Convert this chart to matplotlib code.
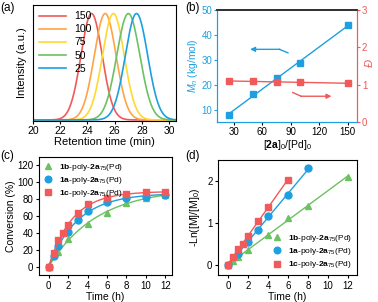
import matplotlib
matplotlib.use('Agg')
import matplotlib.pyplot as plt
import numpy as np

plt.rcParams['font.family'] = ['Liberation Sans', 'DejaVu Sans']
plt.rcParams['mathtext.fontset'] = 'custom'
plt.rcParams['mathtext.rm'] = 'Liberation Sans'
plt.rcParams['mathtext.it'] = 'Liberation Sans:italic'
plt.rcParams['mathtext.bf'] = 'Liberation Sans:bold'
plt.rcParams['font.size'] = 7
plt.rcParams['axes.labelsize'] = 7.5

RED = '#f05a5a'
ORANGE = '#ffa347'
YELLOW = '#ffd92f'
GREEN = '#6cc162'
BLUE = '#1ea0e0'

# (a) GPC traces: peak retention time and width for each [2a]0/[Pd]0
gpc_labels = ['150', '100', '75', '50', '25']
gpc_colors = [RED, ORANGE, YELLOW, GREEN, BLUE]
gpc_peak = [24.3, 25.3, 25.9, 27.0, 27.6]
gpc_width = [0.78, 0.80, 0.80, 0.85, 0.82]

# (b) Mn and dispersity vs feed ratio
ratio = [25, 50, 75, 100, 150]
mn = [8.0, 16.2, 22.6, 28.8, 43.8]
disp = [1.09, 1.11, 1.06, 1.06, 1.04]

# (c) conversion vs time
t_b = [0, 1, 2, 4, 6, 8, 10, 12]
conv_b = [0, 17, 33, 51, 64, 75, 81, 85]
t_a = [0, 0.5, 1, 2, 3, 4, 6, 8, 10, 12]
conv_a = [0, 12, 24, 41, 55, 66, 77, 81, 83, 85]
t_c = [0, 0.5, 1, 1.5, 2, 3, 4, 6, 8, 10, 12]
conv_c = [0, 16, 31, 40, 49, 64, 74, 81, 86, 88, 88]

# (d) -ln([M]/[M]0) vs time
lt_b = [0, 0.5, 1, 2, 4, 6, 8, 12]
ln_b = [0, 0.08, 0.18, 0.34, 0.70, 1.12, 1.41, 2.10]
lt_a = [0, 1, 2, 3, 4, 6, 8]
ln_a = [0, 0.26, 0.54, 0.82, 1.15, 1.66, 2.30]
lt_c = [0, 0.5, 1, 1.5, 2, 3, 4, 6]
ln_c = [0, 0.17, 0.38, 0.50, 0.68, 1.05, 1.37, 2.02]

lab_b = r'$\mathbf{1b}$-poly-$\mathbf{2a}_{\mathit{75}}$(Pd)'
lab_a = r'$\mathbf{1a}$-poly-$\mathbf{2a}_{\mathit{75}}$(Pd)'
lab_c = r'$\mathbf{1c}$-poly-$\mathbf{2a}_{\mathit{75}}$(Pd)'

W, H = 378, 302
fig = plt.figure(figsize=(W / 100, H / 100), dpi=100)


def box(x0, y0, x1, y1):
    return [x0 / W, 1 - y1 / H, (x1 - x0) / W, (y1 - y0) / H]


# ---------- (a)
ax1 = fig.add_axes(box(33, 5, 176, 121))
x = np.linspace(20, 30.5, 400)
for lab, c, p, w in zip(gpc_labels, gpc_colors, gpc_peak, gpc_width):
    ax1.plot(x, np.exp(-0.5 * ((x - p) / w) ** 2), color=c, lw=1.2, label=lab)
ax1.set_xlim(20, 30.5)
ax1.set_ylim(-0.01, 1.08)
ax1.set_yticks([])
ax1.set_xticks([20, 22, 24, 26, 28, 30])
ax1.tick_params(axis='x', length=2, pad=1.5, labelsize=7.5)
ax1.set_xlabel('Retention time (min)', labelpad=1, fontsize=8)
ax1.set_ylabel('Intensity (a.u.)', labelpad=4, fontsize=8)
ax1.legend(loc='upper left', frameon=False, handlelength=2.6, fontsize=7.5,
           labelspacing=0.3, borderaxespad=0.2, handletextpad=0.8)

# ---------- (b)
ax2 = fig.add_axes(box(217, 10, 357, 122))
ax2r = ax2.twinx()
ax2.plot(ratio, mn, 's', color=BLUE, ms=4.5)
k = np.polyfit(ratio, mn, 1)
xx = np.array([25, 150])
ax2.plot(xx, np.polyval(k, xx), color=BLUE, lw=1)
ax2r.plot(ratio, disp, 's', color=RED, ms=4.5)
k2 = np.polyfit(ratio, disp, 1)
ax2r.plot(xx, np.polyval(k2, xx), color=RED, lw=1)
ax2.set_xlim(12, 160)
ax2.set_ylim(5, 50)
ax2r.set_ylim(0, 3)
ax2.set_xticks([30, 60, 90, 120, 150])
ax2.set_yticks([10, 20, 30, 40, 50])
ax2r.set_yticks([0, 1, 2, 3])
ax2.tick_params(axis='y', colors=BLUE, length=2, pad=1.5)
ax2.tick_params(axis='x', length=2, pad=1.5)
ax2r.tick_params(axis='y', colors=RED, length=2, pad=1.5)
for a in (ax2, ax2r):
    a.spines['left'].set_color(BLUE)
    a.spines['right'].set_color(RED)
    a.spines['bottom'].set_color(BLUE)
    a.spines['top'].set_color('#333333')
    a.spines['top'].set_linewidth(1.3)
ax2.set_ylabel(r'$M_n$ (kg/mol)', color=BLUE, labelpad=1)
# dispersity label placed by hand so it stays inside the canvas
fig.text(369.5 / W, 1 - 63 / H, 'Đ', color=RED, fontsize=8, style='italic',
         rotation=90, ha='center', va='center')
ax2.set_xlabel(r'[$\mathbf{2a}$]$_0$/[Pd]$_0$', labelpad=1)
# arrows
ax2.plot([87, 78], [32.8, 34.2], color=BLUE, lw=1)
ax2.annotate('', xy=(47, 34.2), xytext=(78.5, 34.2),
             arrowprops=dict(arrowstyle='-|>', color=BLUE, lw=1,
                             mutation_scale=7, shrinkA=0, shrinkB=0))
ax2r.plot([92, 101], [0.79, 0.69], color=RED, lw=1)
ax2r.annotate('', xy=(133, 0.69), xytext=(100.5, 0.69),
              arrowprops=dict(arrowstyle='-|>', color=RED, lw=1,
                              mutation_scale=7, shrinkA=0, shrinkB=0))


# ---------- (c)
def fit_exp(t, y):
    t = np.asarray(t, float)
    y = np.asarray(y, float)
    best = None
    for kk in np.linspace(0.05, 1.5, 800):
        f = 1 - np.exp(-kk * t)
        A = (f @ y) / (f @ f)
        err = np.sum((A * f - y) ** 2)
        if best is None or err < best[0]:
            best = (err, A, kk)
    return best[1], best[2]


ax3 = fig.add_axes(box(39, 157, 172, 275))
tt = np.linspace(0, 12, 300)
for t, y, c, m, lab in [(t_b, conv_b, GREEN, '^', lab_b),
                        (t_a, conv_a, BLUE, 'o', lab_a),
                        (t_c, conv_c, RED, 's', lab_c)]:
    A, kk = fit_exp(t, y)
    ax3.plot(tt, A * (1 - np.exp(-kk * tt)), color=c, lw=1)
    ax3.plot(t, y, m, color=c, ms=5, label=lab)
ax3.set_xlim(-1, 12.7)
ax3.set_ylim(-10, 130)
ax3.set_xticks([0, 2, 4, 6, 8, 10, 12])
ax3.set_yticks([0, 20, 40, 60, 80, 100, 120])
ax3.tick_params(length=2.5, pad=1.5)
ax3.set_xlabel('Time (h)', labelpad=1)
ax3.set_ylabel('Conversion (%)', labelpad=1)
ax3.legend(loc='upper left', frameon=False, fontsize=6, handlelength=1,
           labelspacing=0.25, borderaxespad=0.15, handletextpad=0.8,
           markerscale=0.95)

# ---------- (d)
ax4 = fig.add_axes(box(218, 160, 357, 275))
for t, y, c, m, lab in [(lt_b, ln_b, GREEN, '^', lab_b),
                        (lt_a, ln_a, BLUE, 'o', lab_a),
                        (lt_c, ln_c, RED, 's', lab_c)]:
    t = np.asarray(t, float)
    kk = np.polyfit(t, y, 1)
    ax4.plot([0, t[-1]], np.polyval(kk, [0, t[-1]]), color=c, lw=1)
    ax4.plot(t, y, m, color=c, ms=5, label=lab)
ax4.set_xlim(-1, 12.9)
ax4.set_ylim(-0.25, 2.5)
ax4.set_xticks([0, 2, 4, 6, 8, 10, 12])
ax4.set_yticks([0, 1, 2])
ax4.tick_params(length=2.5, pad=1.5)
ax4.set_xlabel('Time (h)', labelpad=1)
ax4.set_ylabel(r'-Ln([M]/[M]$_0$)', labelpad=4)
ax4.legend(loc='lower right', frameon=False, fontsize=6, handlelength=1,
           labelspacing=0.25, borderaxespad=0.15, handletextpad=0.8,
           markerscale=0.95)

for lab, (px, py) in zip(['(a)', '(b)', '(c)', '(d)'],
                         [(0, 2), (185, 2), (0, 150), (185, 150)]):
    fig.text(px / W, 1 - py / H, lab, ha='left', va='top', fontsize=8.5)

fig.savefig('out.png', dpi=100)
